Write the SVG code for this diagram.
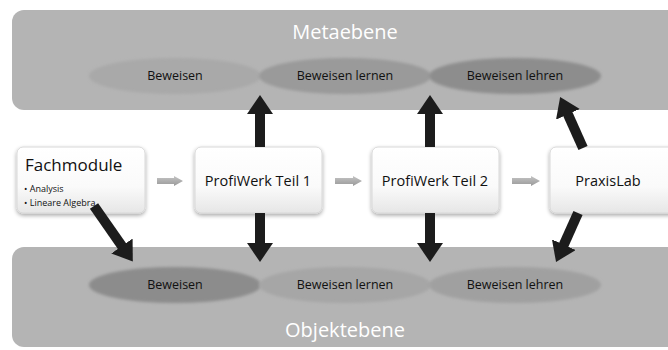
<svg xmlns="http://www.w3.org/2000/svg" width="668" height="350" viewBox="0 0 668 350">
<defs>
<style>
.panel{fill:#b4b4b4}
.ptitle{font-family:"Open Sans","Liberation Sans",sans-serif;font-size:20px;fill:#ffffff;text-anchor:middle}
.etext{font-family:"Open Sans","Liberation Sans",sans-serif;font-size:12.5px;fill:#111;text-anchor:middle}
.box{fill:url(#boxg);stroke:#d8d8d8;stroke-width:1;filter:url(#shadow)}
.btext{font-family:"Open Sans","Liberation Sans",sans-serif;font-size:14.5px;fill:#111;text-anchor:middle}
.conn{stroke:#1c1c1c;stroke-width:10;fill:none;marker-end:url(#head)}
.small{fill:url(#grayg)}
</style>
<linearGradient id="boxg" x1="0" y1="0" x2="0" y2="1">
<stop offset="0" stop-color="#ffffff"/>
<stop offset="0.6" stop-color="#fafafa"/>
<stop offset="1" stop-color="#e6e6e6"/>
</linearGradient>
<linearGradient id="grayg" x1="0" y1="0" x2="0" y2="1">
<stop offset="0" stop-color="#c4c4c4"/>
<stop offset="1" stop-color="#999999"/>
</linearGradient>
<filter id="shadow" x="-10%" y="-10%" width="130%" height="140%">
<feGaussianBlur in="SourceAlpha" stdDeviation="2"/>
<feOffset dx="0" dy="2" result="b"/>
<feComponentTransfer><feFuncA type="linear" slope="0.35"/></feComponentTransfer>
<feMerge><feMergeNode/><feMergeNode in="SourceGraphic"/></feMerge>
</filter>
<filter id="soft" x="-10%" y="-20%" width="120%" height="140%">
<feGaussianBlur stdDeviation="1.5"/>
</filter>
<marker id="head" markerUnits="userSpaceOnUse" viewBox="0 0 19 26" refX="1" refY="13" markerWidth="19" markerHeight="26" orient="auto">
<path d="M0,0 L19,13 L0,26 z" fill="#1c1c1c"/>
</marker>
</defs>
<rect width="668" height="350" fill="#ffffff"/>

<g id="metaebene">
<rect class="panel" x="12" y="10" width="672" height="100" rx="12"/>
<text class="ptitle" x="345" y="39">Metaebene</text>
</g>
<g id="meta-beweisen">
<ellipse cx="175" cy="76" rx="86" ry="18" fill="#a9a9a9" filter="url(#soft)"/>
<text class="etext" x="175" y="80">Beweisen</text>
</g>
<g id="meta-lernen">
<ellipse cx="345" cy="76" rx="86" ry="18" fill="#9a9a9a" filter="url(#soft)"/>
<text class="etext" x="345" y="80">Beweisen lernen</text>
</g>
<g id="meta-lehren">
<ellipse cx="515" cy="76" rx="86" ry="18" fill="#8d8d8d" filter="url(#soft)"/>
<text class="etext" x="515" y="80">Beweisen lehren</text>
</g>

<g id="objektebene">
<rect class="panel" x="12" y="247" width="672" height="100" rx="12"/>
<text class="ptitle" x="345" y="337">Objektebene</text>
</g>
<g id="obj-beweisen">
<ellipse cx="175" cy="285" rx="86" ry="18" fill="#8c8c8c" filter="url(#soft)"/>
<text class="etext" x="175" y="289">Beweisen</text>
</g>
<g id="obj-lernen">
<ellipse cx="345" cy="285" rx="86" ry="18" fill="#a6a6a6" filter="url(#soft)"/>
<text class="etext" x="345" y="289">Beweisen lernen</text>
</g>
<g id="obj-lehren">
<ellipse cx="515" cy="285" rx="86" ry="18" fill="#a0a0a0" filter="url(#soft)"/>
<text class="etext" x="515" y="289">Beweisen lehren</text>
</g>

<g id="fachmodule">
<rect class="box" x="17" y="147" width="128" height="66" rx="6"/>
<text x="25" y="171" font-family="Open Sans, Liberation Sans, sans-serif" font-size="17" fill="#111">Fachmodule</text>
<text x="24" y="192" font-family="Open Sans, Liberation Sans, sans-serif" font-size="9" fill="#111">• Analysis</text>
<text x="24" y="206" font-family="Open Sans, Liberation Sans, sans-serif" font-size="9" fill="#111">• Lineare Algebra</text>
</g>
<g id="profiwerk1">
<rect class="box" x="195" y="147" width="127" height="66" rx="6"/>
<text class="btext" x="258" y="186">ProfiWerk Teil 1</text>
</g>
<g id="profiwerk2">
<rect class="box" x="372" y="147" width="127" height="66" rx="6"/>
<text class="btext" x="435" y="186">ProfiWerk Teil 2</text>
</g>
<g id="praxislab">
<rect class="box" x="550" y="147" width="130" height="66" rx="6"/>
<text class="btext" x="608" y="186">PraxisLab</text>
</g>

<g id="connectors">
<polygon class="small" points="157,178 174,178 174,176 183,181 174,186 174,184 157,184"/>
<polygon class="small" points="335,178 353,178 353,176 362,181 353,186 353,184 335,184"/>
<polygon class="small" points="512,178 531,178 531,176 540,181 531,186 531,184 512,184"/>
<line class="conn" x1="260" y1="147" x2="260" y2="113"/>
<line class="conn" x1="430" y1="147" x2="430" y2="113"/>
<line class="conn" x1="583" y1="148" x2="567.5" y2="113.4"/>
<line class="conn" x1="260" y1="213" x2="260" y2="244"/>
<line class="conn" x1="430" y1="213" x2="430" y2="244"/>
<line class="conn" x1="94" y1="206" x2="122.5" y2="246.8"/>
<line class="conn" x1="578" y1="213" x2="563.4" y2="245.6"/>
</g>
</svg>
